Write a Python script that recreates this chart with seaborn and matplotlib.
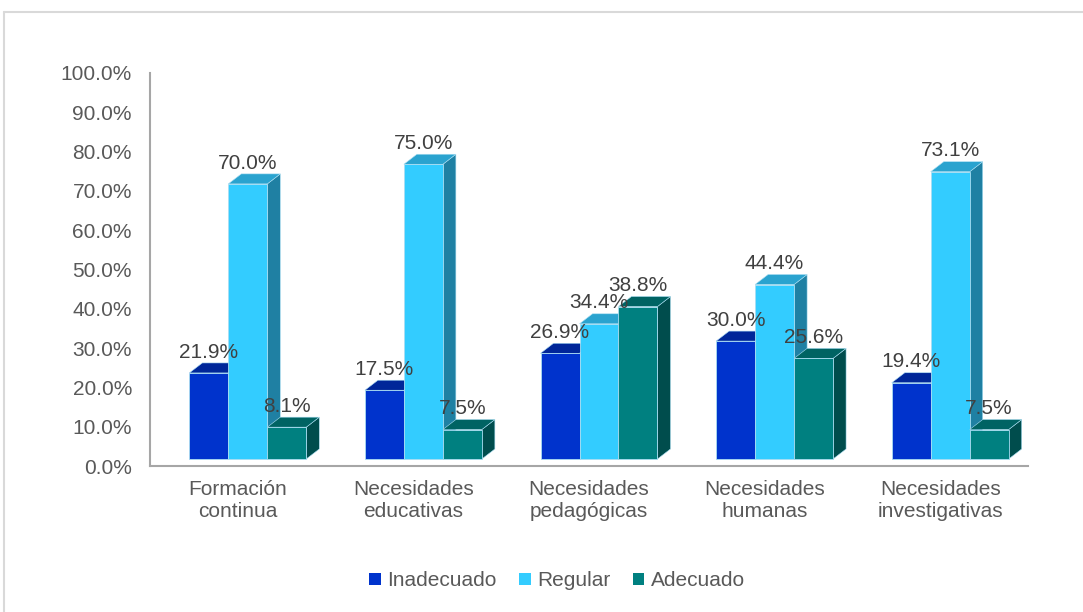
import numpy as np
import pandas as pd
import matplotlib.pyplot as plt
import matplotlib.patches as mpatches
import matplotlib.lines as mlines
from matplotlib.ticker import FuncFormatter
import seaborn as sns

categorias = ["Formación\ncontinua", "Necesidades\neducativas", "Necesidades\npedagógicas",
              "Necesidades\nhumanas", "Necesidades\ninvestigativas"]
niveles = ["Inadecuado", "Regular", "Adecuado"]
inadecuado = [21.9, 17.5, 26.9, 30.0, 19.4]
regular = [70.0, 75.0, 34.4, 44.4, 73.1]
adecuado = [8.1, 7.5, 38.8, 25.6, 7.5]

# front / top / side colours for each level
frente = ["#0033CC", "#33CCFF", "#008080"]
arriba = ["#002699", "#2AA3CF", "#006363"]
lado = ["#001F80", "#1F80A3", "#004D4D"]


def main():
    sns.set_theme(style="white")
    plt.rcParams["font.family"] = ["Liberation Sans", "DejaVu Sans"]

    df = pd.DataFrame({
        "categoria": np.repeat(categorias, 3),
        "nivel": niveles * len(categorias),
        "valor": np.ravel(np.column_stack([inadecuado, regular, adecuado])),
    })

    fig = plt.figure(figsize=(10.83, 6.12), dpi=100)
    W, H = 1083, 612
    ax = fig.add_axes([150 / W, 1 - 466 / H, (1028 - 150) / W, (466 - 73) / H])

    sns.barplot(data=df, x="categoria", y="valor", hue="nivel", hue_order=niveles,
                order=categorias, palette=frente, saturation=1, width=0.666,
                errorbar=None, ax=ax)

    ax.set_xlim(-0.5, len(categorias) - 0.5)
    ax.set_ylim(0, 100)

    # pixel -> data conversions for the pseudo 3D look
    px_x = (len(categorias)) / (1028 - 150)
    px_y = 100 / (466 - 73)
    dx, dy = 13 * px_x, 10 * px_y
    base = 7 * px_y
    shift = 10 * px_x

    for i, cont in enumerate(ax.containers):
        for rect in cont:
            x0 = rect.get_x() + shift
            w = rect.get_width()
            h = rect.get_height()
            z = 2 + i
            rect.set_x(x0)
            rect.set_y(base)
            rect.set_edgecolor("#A9DDF2")
            rect.set_linewidth(0.6)
            rect.set_zorder(z + 0.5)
            top = mpatches.Polygon([(x0, base + h), (x0 + dx, base + h + dy),
                                    (x0 + w + dx, base + h + dy), (x0 + w, base + h)],
                                   closed=True, facecolor=arriba[i], edgecolor="#A9DDF2",
                                   linewidth=0.4, zorder=z)
            side = mpatches.Polygon([(x0 + w, base), (x0 + w + dx, base + dy),
                                     (x0 + w + dx, base + h + dy), (x0 + w, base + h)],
                                    closed=True, facecolor=lado[i], edgecolor="#A9DDF2",
                                    linewidth=0.4, zorder=z)
            ax.add_patch(side)
            ax.add_patch(top)
            ax.annotate(f"{h:.1f}%", (x0 + w / 2, base + h + dy), xytext=(0, 1),
                        textcoords="offset points", ha="center", va="bottom",
                        fontsize=15, color="#404040", zorder=10)

    ax.yaxis.set_major_locator(plt.MultipleLocator(10))
    ax.yaxis.set_major_formatter(FuncFormatter(lambda v, p: f"{v:.1f}%"))
    ax.tick_params(axis="both", length=0, labelsize=15, labelcolor="#595959")
    ax.tick_params(axis="y", pad=13)
    ax.tick_params(axis="x", pad=10)
    ax.set_xlabel("")
    ax.set_ylabel("")
    for s in ["top", "right"]:
        ax.spines[s].set_visible(False)
    for s in ["left", "bottom"]:
        ax.spines[s].set_color("#A6A6A6")
        ax.spines[s].set_linewidth(1.5)

    sns.move_legend(ax, "center", bbox_to_anchor=(557 / W, 1 - 581 / H),
                    bbox_transform=fig.transFigure, ncol=3, frameon=False, title=None,
                    fontsize=15, handlelength=0.55, handleheight=0.55, handletextpad=0.3,
                    columnspacing=1.1, labelcolor="#595959")
    for hnd in ax.get_legend().legend_handles:
        hnd.set_edgecolor("none")

    # light frame around the chart area
    fig.add_artist(mlines.Line2D([4 / W, 4 / W], [0, 1 - 12 / H], color="#D9D9D9", lw=1.5))
    fig.add_artist(mlines.Line2D([4 / W, 1], [1 - 12 / H, 1 - 12 / H], color="#D9D9D9", lw=1.5))

    fig.savefig("out.png", dpi=100)
    plt.close(fig)


if __name__ == "__main__":
    main()
